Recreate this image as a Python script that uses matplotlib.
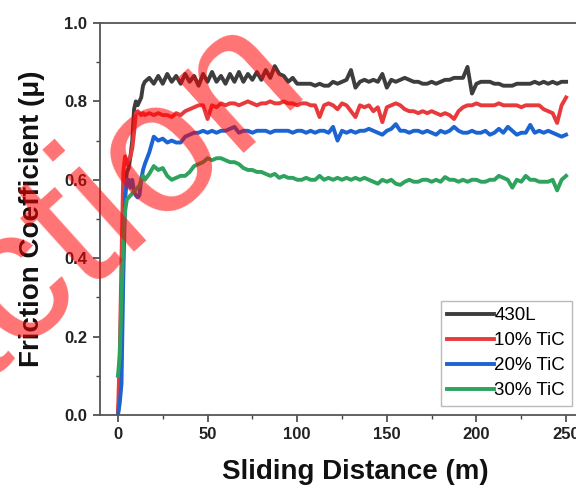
import matplotlib
matplotlib.use('Agg')
import matplotlib.pyplot as plt
from matplotlib.ticker import MultipleLocator

plt.rcParams['font.family'] = ['Liberation Sans', 'DejaVu Sans']

# sliding distance (m): 1 m steps up to 15 m, then 2.5 m steps
distance = list(range(0, 16)) + [17.5 + 2.5 * i for i in range(94)]

mu_430l = [0.0, 0.05, 0.25, 0.45, 0.58, 0.62, 0.63, 0.66, 0.70, 0.78, 0.80, 0.79, 0.80, 0.81, 0.84, 0.85,
           0.86, 0.845, 0.865, 0.845, 0.87, 0.85, 0.865, 0.845, 0.87, 0.85, 0.865, 0.84, 0.87, 0.85,
           0.875, 0.85, 0.865, 0.845, 0.87, 0.85, 0.875, 0.85, 0.87, 0.855, 0.875, 0.855, 0.88, 0.86,
           0.89, 0.87, 0.865, 0.85, 0.86, 0.845, 0.845, 0.845, 0.845, 0.84, 0.845, 0.84, 0.84, 0.85,
           0.845, 0.85, 0.855, 0.88, 0.835, 0.85, 0.855, 0.85, 0.855, 0.85, 0.87, 0.835, 0.855, 0.85,
           0.855, 0.86, 0.855, 0.85, 0.85, 0.845, 0.845, 0.85, 0.845, 0.85, 0.855, 0.855, 0.86, 0.86,
           0.86, 0.888, 0.82, 0.845, 0.85, 0.85, 0.85, 0.845, 0.845, 0.84, 0.84, 0.84, 0.845, 0.845,
           0.845, 0.845, 0.85, 0.845, 0.85, 0.845, 0.85, 0.845, 0.85, 0.85]

mu_10tic = [0.0, 0.15, 0.40, 0.62, 0.66, 0.64, 0.65, 0.66, 0.68, 0.72, 0.77, 0.775, 0.77, 0.765, 0.77, 0.765,
            0.77, 0.765, 0.77, 0.765, 0.765, 0.76, 0.77, 0.765, 0.775, 0.78, 0.785, 0.79, 0.79, 0.755,
            0.79, 0.785, 0.795, 0.79, 0.795, 0.795, 0.79, 0.795, 0.80, 0.795, 0.79, 0.795, 0.795, 0.80,
            0.795, 0.795, 0.80, 0.795, 0.795, 0.79, 0.795, 0.795, 0.79, 0.79, 0.76, 0.79, 0.795, 0.79,
            0.78, 0.795, 0.79, 0.775, 0.76, 0.79, 0.785, 0.79, 0.775, 0.785, 0.747, 0.785, 0.79, 0.795,
            0.79, 0.78, 0.775, 0.775, 0.77, 0.775, 0.77, 0.775, 0.77, 0.765, 0.77, 0.765, 0.755, 0.775,
            0.785, 0.79, 0.79, 0.795, 0.79, 0.79, 0.79, 0.79, 0.795, 0.79, 0.79, 0.79, 0.79, 0.785,
            0.79, 0.79, 0.79, 0.79, 0.78, 0.775, 0.77, 0.745, 0.79, 0.81]

mu_20tic = [0.0, 0.03, 0.08, 0.35, 0.55, 0.60, 0.60, 0.58, 0.60, 0.57, 0.56, 0.555, 0.56, 0.60, 0.625, 0.64,
            0.67, 0.71, 0.70, 0.705, 0.695, 0.70, 0.695, 0.695, 0.71, 0.715, 0.72, 0.72, 0.725, 0.72,
            0.725, 0.72, 0.725, 0.725, 0.73, 0.735, 0.72, 0.725, 0.725, 0.72, 0.725, 0.725, 0.725, 0.72,
            0.725, 0.725, 0.725, 0.725, 0.72, 0.725, 0.725, 0.72, 0.725, 0.72, 0.725, 0.725, 0.72, 0.735,
            0.70, 0.725, 0.72, 0.725, 0.72, 0.725, 0.725, 0.73, 0.725, 0.72, 0.715, 0.725, 0.73, 0.742,
            0.725, 0.725, 0.72, 0.725, 0.725, 0.72, 0.725, 0.72, 0.715, 0.725, 0.72, 0.725, 0.735, 0.725,
            0.72, 0.72, 0.725, 0.72, 0.72, 0.725, 0.715, 0.72, 0.73, 0.72, 0.735, 0.725, 0.715, 0.72,
            0.72, 0.74, 0.72, 0.725, 0.72, 0.725, 0.72, 0.715, 0.71, 0.715]

mu_30tic = [0.10, 0.15, 0.30, 0.45, 0.52, 0.55, 0.555, 0.56, 0.565, 0.57, 0.575, 0.58, 0.585, 0.60, 0.61, 0.60,
            0.615, 0.635, 0.625, 0.63, 0.61, 0.60, 0.605, 0.61, 0.61, 0.62, 0.635, 0.64, 0.645, 0.655,
            0.65, 0.655, 0.655, 0.65, 0.645, 0.645, 0.64, 0.63, 0.625, 0.625, 0.62, 0.62, 0.615, 0.61,
            0.615, 0.605, 0.61, 0.605, 0.605, 0.60, 0.60, 0.605, 0.60, 0.60, 0.61, 0.60, 0.605, 0.60,
            0.605, 0.60, 0.605, 0.60, 0.605, 0.60, 0.605, 0.60, 0.595, 0.59, 0.60, 0.595, 0.60, 0.59,
            0.587, 0.595, 0.60, 0.595, 0.595, 0.60, 0.60, 0.595, 0.60, 0.595, 0.607, 0.60, 0.60, 0.595,
            0.60, 0.595, 0.60, 0.60, 0.595, 0.595, 0.60, 0.60, 0.61, 0.605, 0.60, 0.58, 0.60, 0.595,
            0.61, 0.60, 0.60, 0.595, 0.595, 0.595, 0.60, 0.573, 0.60, 0.61]

labels = ['430L', '10% TiC', '20% TiC', '30% TiC']
colors = ['#3d3d3d', '#e83a3c', '#1c64d2', '#2ea35e']

fig = plt.figure(figsize=(5.76, 4.88), dpi=100)
# the original panel is cropped on the right, so the axes run past the figure edge
ax = fig.add_axes([0.1736, 0.1496, 0.887, 0.8033])

for series, label, color in zip([mu_430l, mu_10tic, mu_20tic, mu_30tic], labels, colors):
    ax.plot(distance, series, color=color, lw=2.8, label=label)

ax.set_xlim(-10, 275)
ax.set_ylim(0, 1.0)
ax.xaxis.set_major_locator(MultipleLocator(50))
ax.xaxis.set_minor_locator(MultipleLocator(25))
ax.yaxis.set_major_locator(MultipleLocator(0.2))
ax.yaxis.set_minor_locator(MultipleLocator(0.1))
ax.tick_params(which='major', direction='out', length=5, width=1.2, color='#444444',
               labelsize=12, labelcolor='#222222', pad=4)
ax.tick_params(which='minor', direction='out', length=3, width=1.0, color='#444444')
for lab in ax.get_xticklabels() + ax.get_yticklabels():
    lab.set_fontweight('bold')
for sp in ax.spines.values():
    sp.set_color('#555555')
    sp.set_linewidth(1.3)

ax.set_xlabel('Sliding Distance (m)', fontsize=20, fontweight='bold', color='#111111', labelpad=12)
ax.set_ylabel('Friction Coefficient (\u03bc)', fontsize=20, fontweight='bold', color='#111111', labelpad=14)

leg = ax.legend(loc='lower left', bbox_to_anchor=(0.667, 0.023), fontsize=13.5, frameon=True, fancybox=False,
                handlelength=2.5, handletextpad=0.0, labelspacing=0.42, borderpad=0.35, borderaxespad=0)
leg.get_frame().set_edgecolor('#aaaaaa')
leg.get_frame().set_linewidth(1.0)

# red watermark across the upper left
fig.text(0.536, 0.836, 'Retraction', fontsize=136, color='red', alpha=0.55, rotation=42,
         ha='right', va='baseline', rotation_mode='anchor', zorder=10)

fig.savefig('out.png', dpi=100)
